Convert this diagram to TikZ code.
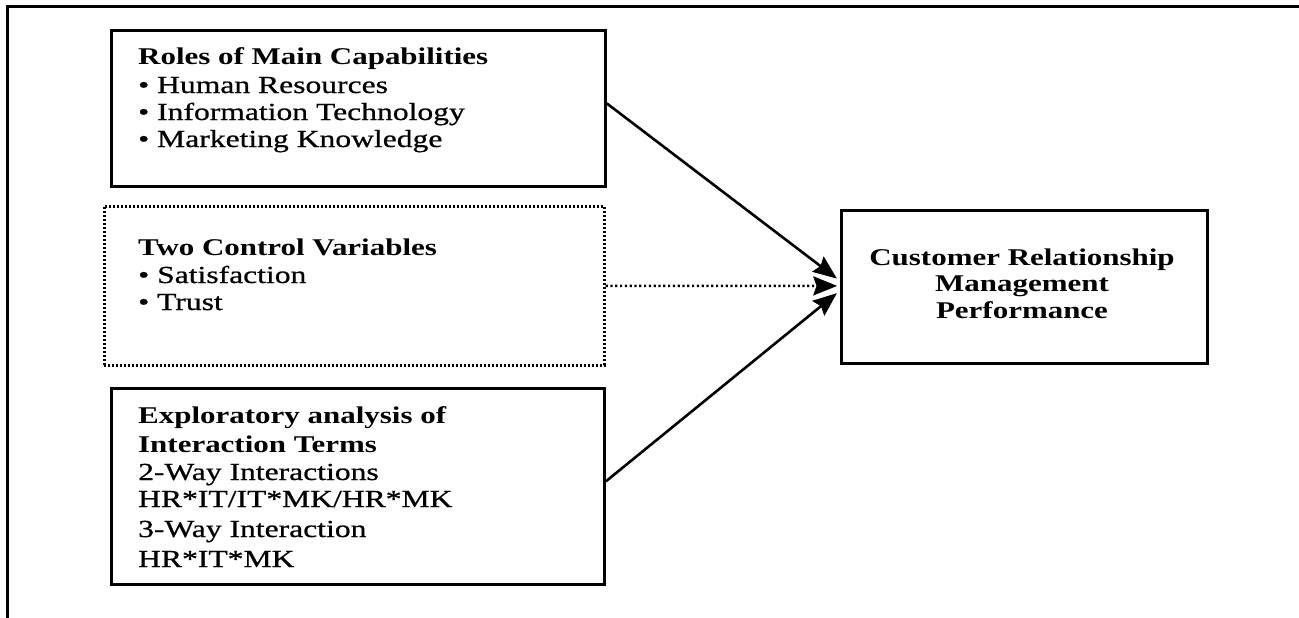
\documentclass[tikz,border=0pt]{standalone}
\usepackage{fontspec}
\setmainfont{Liberation Serif}[FakeStretch=1.29]
\newfontfamily\regheavy{Liberation Serif}[FakeStretch=1.29,FakeBold=0.7]
\usetikzlibrary{calc}
\begin{document}
\begin{tikzpicture}[x=1pt,y=1pt,
  boxline/.style={draw=black,line width=2.8pt},
  dotbox/.style={draw=black,line width=2.6pt,dash pattern=on 2pt off 2pt},
  txt/.style={inner sep=0pt,anchor=base west,font=\fontsize{24.5}{28}\regheavy},
  btxt/.style={inner sep=0pt,anchor=base west,font=\fontsize{24}{28}\selectfont\bfseries},
  ctxt/.style={inner sep=0pt,anchor=base,font=\fontsize{24}{28}\selectfont\bfseries},
  conn/.style={line width=2.6pt,shorten >=12pt},
  dconn/.style={line width=2.6pt,dash pattern=on 2.2pt off 2.6pt,shorten >=12pt},
  headfill/.style={fill=black,draw=black,line width=0.8pt,line join=miter}]
\useasboundingbox (0,0) rectangle (1299,-618);
% outer frame
\coordinate (fa) at (1299,-7);
\coordinate (fb) at (7,-7);
\coordinate (fc) at (7,-618);
\draw[line width=3pt] (fa) -- (fb) -- (fc);
% boxes
\node[boxline,minimum width=494pt,minimum height=156pt,inner sep=0pt,anchor=north west] (b1) at (110,-29) {};
\node[dotbox,minimum width=500pt,minimum height=159pt,inner sep=0pt,anchor=north west] (b2) at (103,-205) {};
\node[boxline,minimum width=493pt,minimum height=196pt,inner sep=0pt,anchor=north west] (b3) at (110,-387) {};
\node[boxline,minimum width=366pt,minimum height=153pt,inner sep=0pt,anchor=north west] (b4) at (840,-209) {};
% box 1 text
\node[btxt] (t1a) at (138,-65) {Roles of Main Capabilities};
\node[txt] (t1b) at (138,-93) {• Human Resources};
\node[txt] (t1c) at (138,-120) {• Information Technology};
\node[txt] (t1d) at (138,-147) {• Marketing Knowledge};
% box 2 text
\node[btxt] (t2a) at (138,-255) {Two Control Variables};
\node[txt] (t2b) at (138,-283) {• Satisfaction};
\node[txt] (t2c) at (138,-310) {• Trust};
% box 3 text
\node[btxt] (t3a) at (138,-423) {Exploratory analysis of};
\node[btxt] (t3b) at (138,-452) {Interaction Terms};
\node[txt] (t3c) at (138,-480) {2-Way Interactions};
\node[txt] (t3d) at (138,-507) {HR*IT/IT*MK/HR*MK};
\node[txt] (t3e) at (138,-537) {3-Way Interaction};
\node[txt] (t3f) at (138,-567) {HR*IT*MK};
% box 4 text
\node[ctxt] (t4a) at (1022,-265) {Customer Relationship};
\node[ctxt] (t4b) at (1022,-291) {Management};
\node[ctxt] (t4c) at (1022,-318) {Performance};
% connector end points
\coordinate (s1) at ([yshift=5pt]b1.east);
\coordinate (s2) at (b2.east);
\coordinate (s3) at ([yshift=5pt]b3.east);
\coordinate (e1) at ([xshift=-4pt,yshift=9pt]b4.west);
\coordinate (e2) at ([xshift=-4pt,yshift=1pt]b4.west);
\coordinate (e3) at ([xshift=-4pt,yshift=-7pt]b4.west);
% connectors
\draw[conn] (s1) -- (e1);
\draw[dconn] (s2) -- (e2);
\draw[conn] (s3) -- (e3);
% arrowheads
\foreach \s/\e in {s1/e1,s2/e2,s3/e3}{
  \filldraw[headfill] (\e) -- ($(\e)!24pt!22:(\s)$) -- ($(\e)!19pt!0:(\s)$) -- ($(\e)!24pt!-22:(\s)$) -- cycle;
}
\end{tikzpicture}
\end{document}
